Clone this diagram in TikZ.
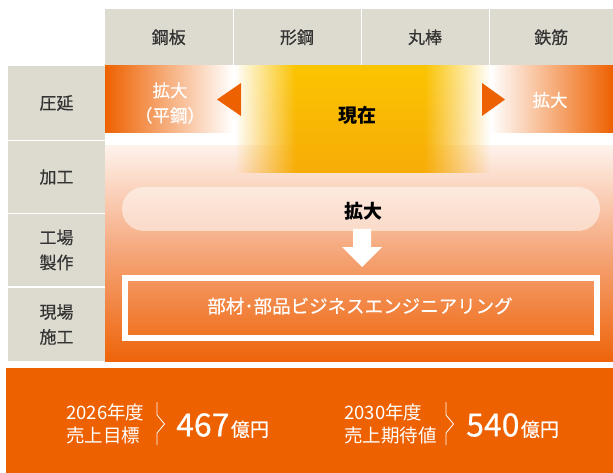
\documentclass[tikz,border=0pt]{standalone}
\usepackage{fontspec}
\setmainfont{Noto Sans CJK JP}
\newfontfamily\medf{Noto Sans CJK JP}[FakeBold=0.5]
\usetikzlibrary{fadings}
\definecolor{hdr}{HTML}{DDDBCF}
\definecolor{org}{HTML}{EE6100}
\definecolor{yel}{HTML}{FBC400}
\definecolor{yeld}{HTML}{F7AC08}
\definecolor{txt}{HTML}{333333}
\definecolor{bgtop}{HTML}{FEF2EB}
\definecolor{bgmid}{HTML}{F5A578}
\definecolor{bgbot}{HTML}{EE640A}
\pgfdeclarehorizontalshading{edgefadesh}{100bp}{color(0bp)=(pgftransparent!100); color(25bp)=(pgftransparent!100); color(37bp)=(pgftransparent!0); color(62bp)=(pgftransparent!0); color(75bp)=(pgftransparent!100); color(100bp)=(pgftransparent!100)}
\pgfdeclarefading{edgefade}{\pgfuseshading{edgefadesh}}
\tikzset{
  cell/.style={fill=hdr, inner sep=0pt, text=txt, align=center, font=\fontsize{17}{25}\selectfont\medf},
  wtxt/.style={text=white, inner sep=0pt, align=center},
  btxt/.style={text=black, inner sep=0pt, font=\fontsize{19}{22}\selectfont\bfseries},
  tri/.style={fill=org},
  brk/.style={draw=white, line width=0.8pt},
  small/.style={text=white, inner sep=0pt, align=left, font=\fontsize{18.5}{23}\selectfont},
  big/.style={text=white, inner sep=0pt, font=\fontsize{32}{34}\selectfont\medf},
  unit/.style={text=white, inner sep=0pt, font=\fontsize{19}{22}\selectfont\medf},
}
\begin{document}
\begin{tikzpicture}[x=1pt,y=-1pt]
\useasboundingbox[fill=white] (0,0) rectangle (613,473);
% header cells
\node[cell, minimum width=127.5pt, minimum height=56.5pt] (h1) at (168.75,37.25) {鋼板};
\node[cell, minimum width=127pt, minimum height=56.5pt] (h2) at (297,37.25) {形鋼};
\node[cell, minimum width=127pt, minimum height=56.5pt] (h3) at (425,37.25) {丸棒};
\node[cell, minimum width=123.5pt, minimum height=56.5pt] (h4) at (551.25,37.25) {鉄筋};
% row cells
\node[cell, minimum width=97pt, minimum height=74pt] (r1) at (56.5,103) {圧延};
\node[cell, minimum width=97pt, minimum height=72pt] (r2) at (56.5,177) {加工};
\node[cell, minimum width=97pt, minimum height=72pt] (r3) at (56.5,250) {工場\\製作};
\node[cell, minimum width=97pt, minimum height=73pt] (r4) at (56.5,324.5) {現場\\施工};
% main orange area
\shade[top color=bgtop, bottom color=bgbot, middle color=bgmid] (105,146) rectangle (613,361);
% rolling row pieces
\shade[left color=org, right color=white] (105,66) rectangle (233,133);
\shade[left color=white, right color=org] (490,66) rectangle (613,133);
% yellow current block
\shade[top color=yel, bottom color=yeld, path fading=edgefade] (235,66) rectangle (490,173);
% triangles
\fill[tri] (217,99.5) -- (241,83) -- (241,116) -- cycle;
\fill[tri] (505,99.5) -- (482,83) -- (482,116) -- cycle;
% texts in rolling row
\node[wtxt, font=\fontsize{17.5}{25}\selectfont\medf] (ex1) at (170,103) {拡大\\（平鋼）};
\node[wtxt, font=\fontsize{17.5}{25}\selectfont\medf] (ex2) at (550,100) {拡大};
\node[btxt] (now) at (357,115) {現在};
% pill
\fill[white, fill opacity=0.5, rounded corners=22pt] (122,187) rectangle (600,231);
\node[btxt] (ex3) at (363,211) {拡大};
% down arrow
\fill[white] (353,229) -- (371,229) -- (371,247) -- (382,247) -- (362,267) -- (342,247) -- (353,247) -- cycle;
% framed box
\draw[white, line width=6pt] (125,278) rectangle (597,337.5);
\node[wtxt, font=\fontsize{18.5}{22}\selectfont\medf] (biz) at (360,306) {部材･部品ビジネスエンジニアリング};
% bottom band
\fill[org] (6,368) rectangle (613,473);
\node[small, anchor=west] (y1) at (66,423.5) {2026年度\\売上目標};
\draw[brk] (157,402) -- (157,415) -- (164.5,424) -- (157,433) -- (157,445);
\node[big, anchor=west] (v1) at (176,425) {467};
\node[unit, anchor=base west] (u1) at ([xshift=1pt]v1.base east) {億円};
\node[small, anchor=west] (y2) at (344,423.5) {2030年度\\売上期待値};
\draw[brk] (446,402) -- (446,415) -- (453.5,424) -- (446,433) -- (446,445);
\node[big, anchor=west] (v2) at (466,425) {540};
\node[unit, anchor=base west] (u2) at ([xshift=1pt]v2.base east) {億円};
\end{tikzpicture}
\end{document}
